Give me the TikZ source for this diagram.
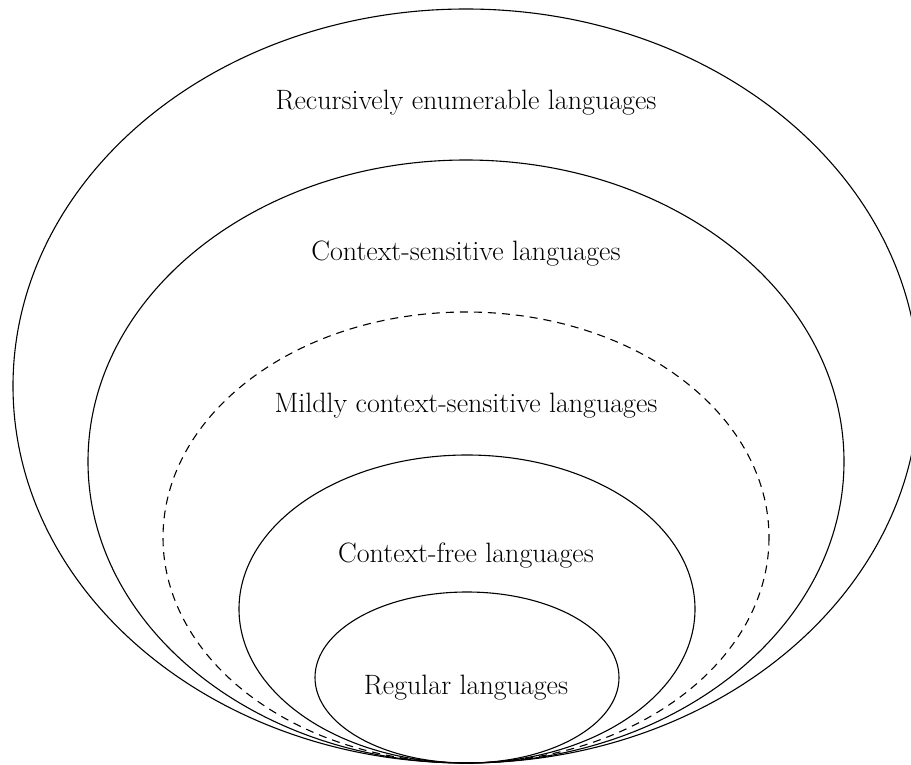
\documentclass[tikz,border=0pt]{standalone}
\begin{document}
\begin{tikzpicture}[x=1pt,y=-1pt,
  set/.style={line width=1.1pt},
  mild/.style={set, dash pattern=on 8pt off 6pt},
  lab/.style={font=\fontsize{28}{33}\selectfont, inner sep=0pt}]
  \useasboundingbox (0,0) rectangle (911,765);
  \begin{scope}
    \clip (0,0) rectangle (911,765);
    % Chomsky hierarchy: nested classes sharing the bottom point
    \draw[set]  (466,386)   ellipse [x radius=453, y radius=377];
    \draw[set]  (466,461.5) ellipse [x radius=378, y radius=301.5];
    \draw[mild] (466,537.5) ellipse [x radius=303, y radius=225.5];
    \draw[set]  (467,609)   ellipse [x radius=228, y radius=154];
    \draw[set]  (467,677.5) ellipse [x radius=152, y radius=85.5];
  \end{scope}
  \node[lab] (re)  at (466,103) {Recursively enumerable languages};
  \node[lab] (cs)  at (466,254) {Context-sensitive languages};
  \node[lab] (mcs) at (466,406) {Mildly context-sensitive languages};
  \node[lab] (cf)  at (466,556) {Context-free languages};
  \node[lab] (reg) at (466,688) {Regular languages};
\end{tikzpicture}
\end{document}
